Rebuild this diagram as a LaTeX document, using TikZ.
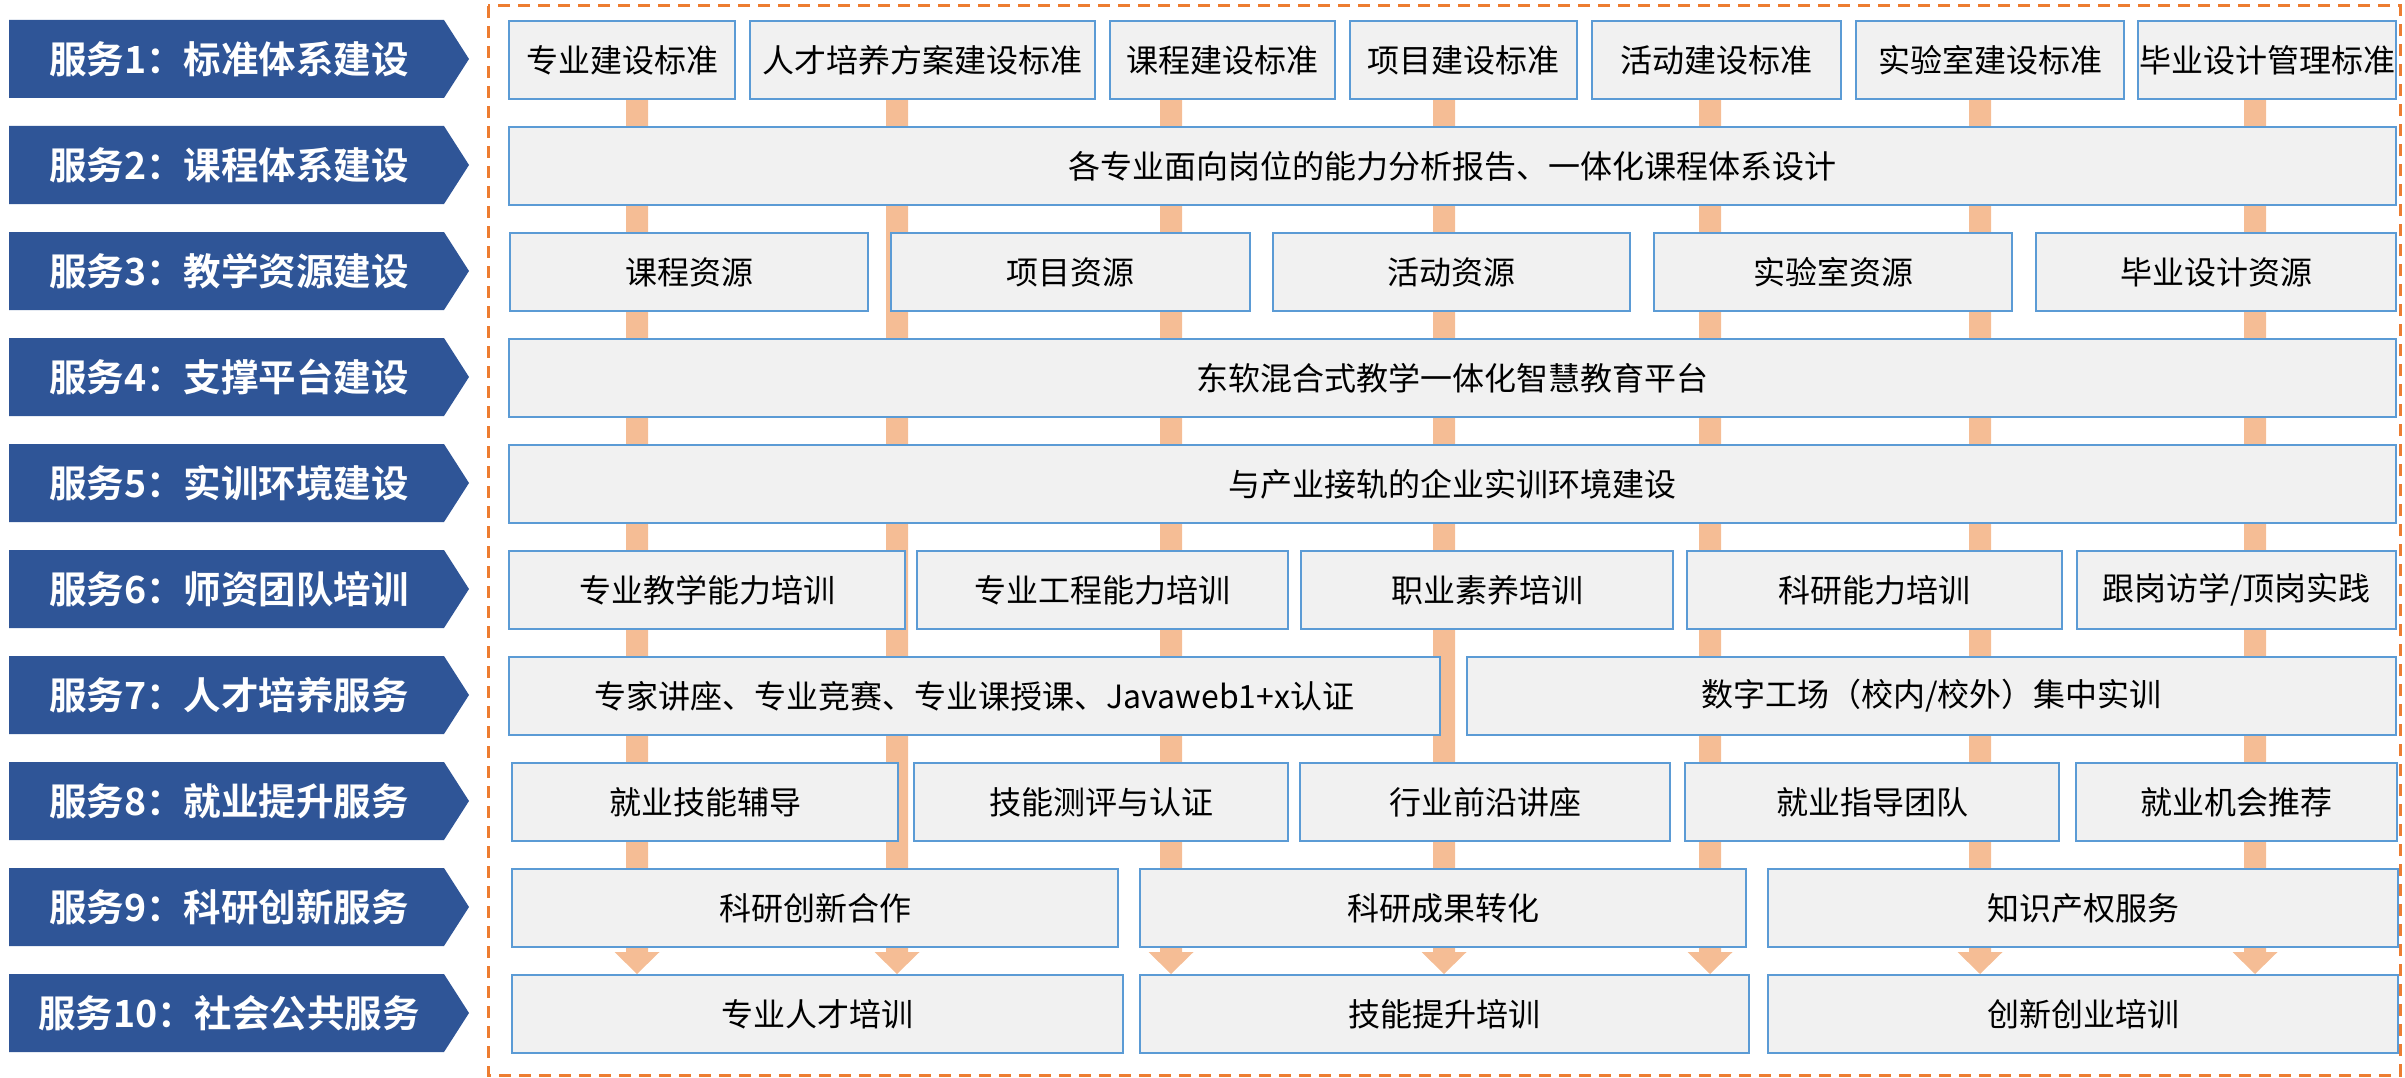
\documentclass[tikz,border=0pt]{standalone}
\usepackage{fontspec}
\setmainfont{Noto Sans CJK SC}[BoldFont={Noto Sans CJK SC Bold}]
\definecolor{bannerblue}{HTML}{2F5597}
\definecolor{boxfill}{HTML}{F1F1F1}
\definecolor{boxline}{HTML}{5B9BD5}
\definecolor{barorange}{HTML}{F5BD95}
\definecolor{dashorange}{HTML}{ED7D31}
\tikzset{
  cbox/.style={draw=boxline, fill=boxfill, line width=2pt, inner sep=0pt,
    minimum height=78pt, anchor=north west, font=\fontsize{32}{37}\selectfont, text=black},
  btext/.style={font=\bfseries\fontsize{37.5}{42}\selectfont, text=white, inner sep=0pt},
  frame/.style={draw=dashorange, line width=3pt, dash pattern=on 12pt off 8pt},
}
\newcommand{\cbx}[5]{\node[cbox, minimum width={(#3-#2)*1pt}] (#1) at (#2,{20+106*(#4-1)}) {#5};}
\newcommand{\bnr}[3]{%
  \fill[bannerblue] (9,{20+106*(#2-1)}) -- ++(435,0) -- ++(25,39) -- ++(-25,39) -- ++(-435,0) -- cycle;
  \node[btext] (#1) at (229,{59+106*(#2-1)}) {#3};}
\newcommand{\vbar}[1]{%
  \fill[barorange] ({#1-11},98) -- ({#1+11},98) -- ({#1+11},952) -- ({#1+22.5},952) -- (#1,974)
    -- ({#1-22.5},952) -- ({#1-11},952) -- cycle;}
\begin{document}
\begin{tikzpicture}[x=1pt,y=-1pt]
\useasboundingbox (0,0) rectangle (2405,1078);
\draw[frame] (488,6) rectangle (2400,1075);
% banners
\bnr{s1}{1}{服务1：标准体系建设}
\bnr{s2}{2}{服务2：课程体系建设}
\bnr{s3}{3}{服务3：教学资源建设}
\bnr{s4}{4}{服务4：支撑平台建设}
\bnr{s5}{5}{服务5：实训环境建设}
\bnr{s6}{6}{服务6：师资团队培训}
\bnr{s7}{7}{服务7：人才培养服务}
\bnr{s8}{8}{服务8：就业提升服务}
\bnr{s9}{9}{服务9：科研创新服务}
\bnr{s10}{10}{服务10：社会公共服务}
% vertical bars
\vbar{637}\vbar{897}\vbar{1171}\vbar{1444}\vbar{1710}\vbar{1980}\vbar{2255}
% row 1
\cbx{a1}{508}{734}{1}{专业建设标准}
\cbx{a2}{749}{1094}{1}{人才培养方案建设标准}
\cbx{a3}{1109}{1334}{1}{课程建设标准}
\cbx{a4}{1349}{1576}{1}{项目建设标准}
\cbx{a5}{1591}{1840}{1}{活动建设标准}
\cbx{a6}{1855}{2123}{1}{实验室建设标准}
\cbx{a7}{2137}{2395}{1}{毕业设计管理标准}
% row 2
\cbx{b1}{508}{2395}{2}{各专业面向岗位的能力分析报告、一体化课程体系设计}
% row 3
\cbx{c1}{509}{867}{3}{课程资源}
\cbx{c2}{890}{1249}{3}{项目资源}
\cbx{c3}{1272}{1629}{3}{活动资源}
\cbx{c4}{1653}{2011}{3}{实验室资源}
\cbx{c5}{2035}{2395}{3}{毕业设计资源}
% row 4, 5
\cbx{d1}{508}{2395}{4}{东软混合式教学一体化智慧教育平台}
\cbx{e1}{508}{2395}{5}{与产业接轨的企业实训环境建设}
% row 6
\cbx{f1}{508}{904}{6}{专业教学能力培训}
\cbx{f2}{916}{1287}{6}{专业工程能力培训}
\cbx{f3}{1300}{1672}{6}{职业素养培训}
\cbx{f4}{1686}{2061}{6}{科研能力培训}
\cbx{f5}{2076}{2395}{6}{跟岗访学/顶岗实践}
% row 7
\cbx{g1}{508}{1439}{7}{专家讲座、专业竞赛、专业课授课、Javaweb1+x认证}
\cbx{g2}{1466}{2395}{7}{数字工场（校内/校外）集中实训}
% row 8
\cbx{h1}{511}{897}{8}{就业技能辅导}
\cbx{h2}{913}{1287}{8}{技能测评与认证}
\cbx{h3}{1299}{1669}{8}{行业前沿讲座}
\cbx{h4}{1684}{2058}{8}{就业指导团队}
\cbx{h5}{2075}{2396}{8}{就业机会推荐}
% row 9
\cbx{i1}{511}{1117}{9}{科研创新合作}
\cbx{i2}{1139}{1745}{9}{科研成果转化}
\cbx{i3}{1767}{2397}{9}{知识产权服务}
% row 10
\cbx{j1}{511}{1122}{10}{专业人才培训}
\cbx{j2}{1139}{1748}{10}{技能提升培训}
\cbx{j3}{1767}{2397}{10}{创新创业培训}
\end{tikzpicture}
\end{document}
